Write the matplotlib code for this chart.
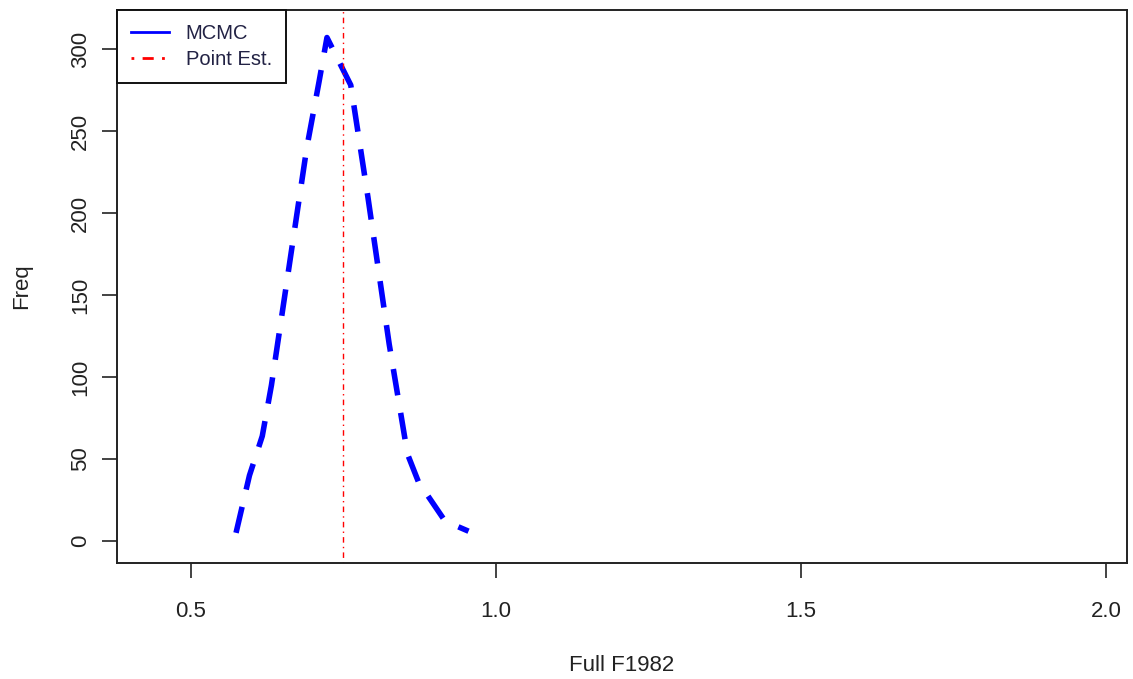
import matplotlib.pyplot as plt
from matplotlib.lines import Line2D

plt.rcParams['font.family'] = ['Liberation Sans', 'DejaVu Sans']

# frequency polygon
f_vals = [0.574, 0.596, 0.617, 0.632, 0.66, 0.69, 0.71, 0.723, 0.762, 0.79, 0.825, 0.855, 0.873, 0.915, 0.93, 0.955]
freq = [5, 40, 64, 95, 165, 240, 280, 307, 278, 210, 120, 53, 36, 13, 10, 6]
point_est = 0.749

x_ticks = [0.5, 1.0, 1.5, 2.0]
y_ticks = [0, 50, 100, 150, 200, 250, 300]

fig = plt.figure(figsize=(11.33, 6.79), dpi=100)
ax = fig.add_axes([0.1033, 0.1708, 0.8914, 0.8145])

ax.plot(f_vals, freq, color='blue', lw=4, dashes=(4.8, 3.2), dash_capstyle='butt')
ax.axvline(point_est, color='red', lw=1, dashes=(1, 3, 4, 3))

ax.set_xlim(0.379, 2.034)
ax.set_ylim(-13.4, 323.8)
ax.set_xticks(x_ticks)
ax.set_xticklabels(['0.5', '1.0', '1.5', '2.0'])
ax.set_yticks(y_ticks)
ax.set_yticklabels([str(v) for v in y_ticks], rotation=90, va='center')
ax.tick_params(direction='out', length=10.5, width=1.2, labelsize=16, colors='#222222')
ax.tick_params(axis='x', pad=17)
ax.tick_params(axis='y', pad=8)
for s in ax.spines.values():
    s.set_linewidth(1.4)
    s.set_color('#222222')

ax.set_xlabel('Full F1982', fontsize=16, color='#222222', va='center')
ax.xaxis.set_label_coords(0.5, -0.186)
ax.set_ylabel('Freq', fontsize=16, color='#222222', va='center')
ax.yaxis.set_label_coords(-0.094, 0.5)

handles = [Line2D([], [], color='blue', lw=2),
           Line2D([], [], color='red', lw=2, dashes=(1, 3, 4, 3))]
leg = ax.legend(handles, ['MCMC', 'Point Est.'], loc='upper left', fontsize=14.5,
                frameon=True, fancybox=False, edgecolor='#111111', borderaxespad=0,
                handlelength=1.9, handletextpad=0.8, borderpad=0.7, labelspacing=0.35,
                framealpha=1)
leg.get_frame().set_linewidth(1.4)
for t in leg.get_texts():
    t.set_color('#222244')

plt.savefig('out.png', dpi=100)
